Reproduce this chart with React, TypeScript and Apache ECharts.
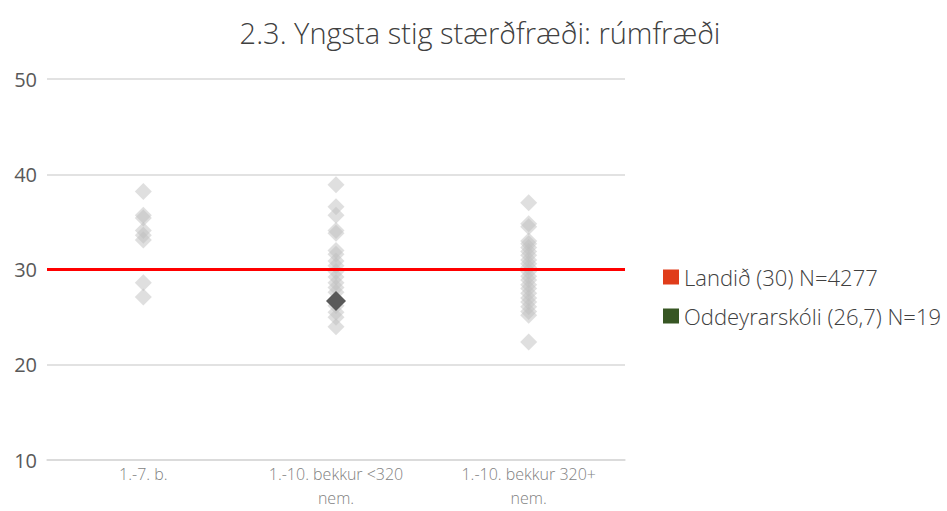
import React, { useEffect, useRef } from "react";
import * as echarts from "echarts";

const titleText = "2.3. Yngsta stig stærðfræði: rúmfræði";
const categories = ["1.-7. b.", "1.-10. bekkur <320\nnem.", "1.-10. bekkur 320+\nnem."];
const yTicks = { min: 10, max: 50, interval: 10 };

const group1Values = [38.2, 35.7, 35.4, 34.1, 33.6, 33.1, 28.6, 27.1];
const group2Values = [38.9, 36.6, 35.7, 34.1, 33.8, 32.0, 31.6, 30.9, 30.4, 29.8, 29.2, 28.6, 28.1, 27.6, 26.2, 25.5, 25.0, 24.0];
const group3Values = [37.0, 34.8, 34.5, 33.0, 32.7, 32.3, 31.9, 31.5, 31.0, 30.6, 30.2, 29.8, 29.3, 28.9, 28.4, 28.0, 27.5, 27.0, 26.6, 26.1, 25.6, 25.2, 22.4];

const schoolName = "Oddeyrarskóli (26,7) N=19";
const schoolCategory = 1;
const schoolValue = 26.7;

const nationalName = "Landið (30) N=4277";
const nationalValue = 30;

export default function App() {
  const ref = useRef<HTMLDivElement>(null);
  useEffect(() => {
    if (!ref.current) return;
    const chart = echarts.init(ref.current, undefined, { renderer: "svg" });
    const groups = [group1Values, group2Values, group3Values];
    const otherData: [number, number][] = [];
    groups.forEach((vals, i) => vals.forEach((v) => otherData.push([i, v])));
    const font = "'Open Sans', 'Noto Sans', sans-serif";
    chart.setOption({
      animation: false,
      textStyle: { fontFamily: font },
      graphic: [
        {
          type: "text",
          x: 480,
          y: 32,
          style: {
            text: titleText,
            textAlign: "center",
            textVerticalAlign: "middle",
            fontSize: 29,
            fontWeight: 300,
            fill: "#404040",
            fontFamily: font,
          },
        },
      ],
      grid: { left: 47, right: 322, top: 79, bottom: 51, containLabel: false, outerBoundsMode: "none" },
      xAxis: {
        type: "category",
        data: categories,
        boundaryGap: true,
        axisLine: { show: true, lineStyle: { color: "#d9d9d9", width: 1.5 } },
        axisTick: { show: false },
        axisLabel: { color: "#7f7f7f", fontSize: 16, fontWeight: 300, lineHeight: 24, margin: 2, interval: 0, fontFamily: font },
        splitLine: { show: false },
      },
      yAxis: {
        type: "value",
        min: yTicks.min,
        max: yTicks.max,
        interval: yTicks.interval,
        axisLine: { show: false },
        axisTick: { show: false },
        axisLabel: { color: "#595959", fontSize: 20, fontWeight: 400, margin: 10, fontFamily: font },
        splitLine: { show: true, lineStyle: { color: "#d9d9d9", width: 1.5 } },
      },
      legend: {
        orient: "vertical",
        left: 658,
        top: 261,
        itemWidth: 16,
        itemHeight: 15,
        itemGap: 17,
        icon: "rect",
        textStyle: { fontSize: 22, fontWeight: 300, color: "#404040", fontFamily: font },
        data: [
          { name: nationalName, itemStyle: { color: "#e03c1a", opacity: 1 } },
          { name: schoolName, itemStyle: { color: "#375623", opacity: 1 } },
        ],
      },
      series: [
        {
          name: "others",
          type: "scatter",
          symbol: "diamond",
          symbolSize: 17,
          itemStyle: { color: "#c0c0c0", opacity: 0.5 },
          data: otherData,
          z: 2,
        },
        {
          name: nationalName,
          type: "scatter",
          data: [],
          itemStyle: { color: "#e03c1a", opacity: 1 },
          markLine: {
            symbol: "none",
            silent: true,
            label: { show: false },
            lineStyle: { color: "#ff0000", width: 3, type: "solid" },
            data: [{ yAxis: nationalValue }],
          },
          z: 3,
        },
        {
          name: schoolName,
          type: "scatter",
          symbol: "diamond",
          symbolSize: 20,
          itemStyle: { color: "#595959", opacity: 1 },
          data: [[schoolCategory, schoolValue]],
          z: 4,
        },
      ],
    });
    return () => chart.dispose();
  }, []);
  return <div ref={ref} style={{ width: 947, height: 511, position: "absolute", left: 0, top: 0 }} />;
}
